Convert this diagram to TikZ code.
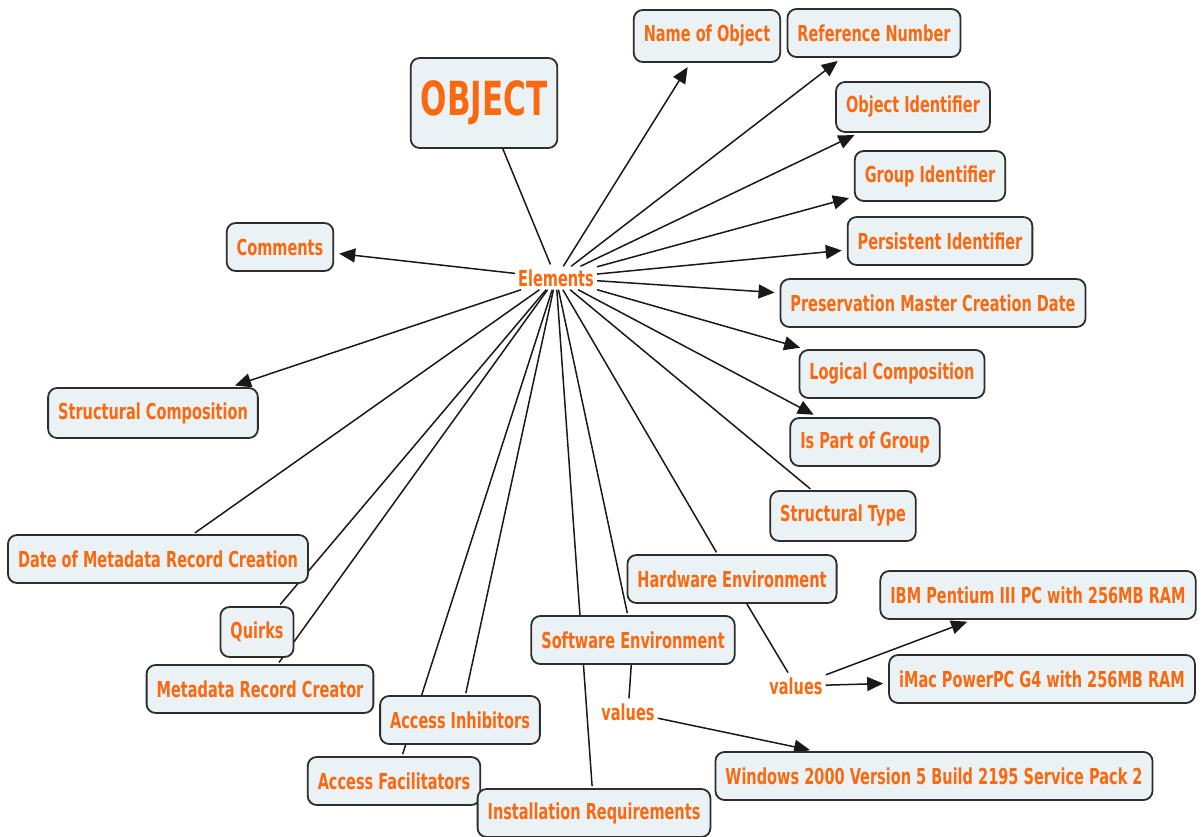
\documentclass[tikz,border=0pt]{standalone}
\usepackage{fontspec}
\setmainfont{DejaVu Sans}[FakeStretch=0.66]
\usetikzlibrary{arrows.meta,backgrounds}
\definecolor{conceptorange}{RGB}{250,104,16}
\definecolor{boxfill}{RGB}{234,242,245}
\definecolor{boxline}{RGB}{45,45,45}
\definecolor{linkcol}{RGB}{25,25,25}
\begin{document}
\begin{tikzpicture}[x=1pt,y=-1pt,
  box/.style={draw=boxline, line width=1.8pt, fill=boxfill, rounded corners=9pt,
    text=conceptorange, font=\fontsize{22}{26}\selectfont\bfseries,
    inner xsep=10pt, inner ysep=0pt, minimum height=48pt},
  lab/.style={text=conceptorange, font=\fontsize{22}{26}\selectfont\bfseries, inner sep=3pt},
  link/.style={line width=1.5pt, draw=linkcol, shorten >=2pt},
  arr/.style={link, -{Triangle[length=16pt,width=14pt]}, shorten >=5pt}]
\useasboundingbox (0,0) rectangle (1203,837);

% main concept and its linking phrase
\node[box, minimum width=144pt, minimum height=90pt, font=\fontsize{47}{52}\selectfont\bfseries] (obj) at (484,103) {OBJECT};
\node[lab] (el) at (556,278) {Elements};

% element concepts
\node[box, minimum height=52pt] (nameobj) at (707,36) {Name of Object};
\node[box] (refnum) at (874,33) {Reference Number};
\node[box, minimum height=50pt] (objid) at (913,107) {Object Identifier};
\node[box, minimum height=50pt] (grpid) at (930,176) {Group Identifier};
\node[box] (persid) at (940,241) {Persistent Identifier};
\node[box] (presdate) at (933,303) {Preservation Master Creation Date};
\node[box] (logcomp) at (892,374) {Logical Composition};
\node[box] (ispart) at (865,442) {Is Part of Group};
\node[box, minimum height=50pt] (structtype) at (843,516) {Structural Type};
\node[box] (comments) at (280,247) {Comments};
\node[box, minimum height=50pt] (structcomp) at (153,413) {Structural Composition};
\node[box] (datemeta) at (158,559) {Date of Metadata Record Creation};
\node[box, minimum height=50pt] (quirks) at (257,632) {Quirks};
\node[box] (mrc) at (260,689) {Metadata Record Creator};
\node[box] (accinh) at (460,720) {Access Inhibitors};
\node[box] (accfac) at (394,781) {Access Facilitators};
\node[box] (instreq) at (594,813) {Installation Requirements};
\node[box] (softenv) at (633,640) {Software Environment};
\node[box] (hardenv) at (732,579) {Hardware Environment};

% environment values
\node[lab] (hval) at (796,686) {values};
\node[lab] (sval) at (628,712) {values};
\node[box] (ibm) at (1038,595) {IBM Pentium III PC with 256MB RAM};
\node[box] (imac) at (1042,679) {iMac PowerPC G4 with 256MB RAM};
\node[box] (windows) at (934,776) {Windows 2000 Version 5 Build 2195 Service Pack 2};

% connectors run behind the concept boxes
\begin{scope}[on background layer]
\fill[white] (0,0) rectangle (1203,837);
\draw[link] (obj) -- (el);
\draw[arr] (el) -- (nameobj);
\draw[arr] (el) -- (refnum);
\draw[arr] (el) -- (objid);
\draw[arr] (el) -- (grpid);
\draw[arr] (el) -- (persid);
\draw[arr] (el) -- (presdate);
\draw[arr] (el) -- (logcomp);
\draw[arr] (el) -- (ispart);
\draw[link] (el) -- (structtype);
\draw[arr] (el) -- (comments);
\draw[arr] (el) -- (structcomp);
\draw[link] (el) -- (datemeta);
\draw[link] (el) -- (quirks);
\draw[link] (el) -- (mrc);
\draw[link] (el) -- (accinh);
\draw[link] (el) -- (accfac);
\draw[link] (el) -- (instreq);
\draw[link] (el) -- (softenv);
\draw[link] (el) -- (hardenv);
\draw[link] (hardenv) -- (hval);
\draw[arr] (hval) -- (ibm);
\draw[arr] (hval) -- (imac);
\draw[link] (softenv) -- (sval);
\draw[arr] (sval) -- (windows);
\end{scope}
\end{tikzpicture}
\end{document}
